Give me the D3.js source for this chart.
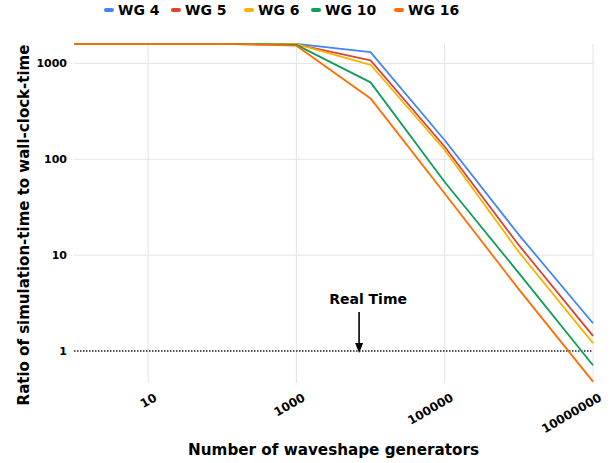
<!DOCTYPE html>
<html>
<head>
<meta charset="utf-8">
<script src="https://cdn.jsdelivr.net/npm/d3@7"></script>
<style>
  html, body { margin: 0; padding: 0; background: #fff; }
  text { font-family: "DejaVu Sans", Verdana, sans-serif; font-weight: bold; fill: #000; }
</style>
</head>
<body>
<svg id="chart" width="611" height="463"></svg>
<script>
// ---- data ----
const generators = [1, 10, 100, 1000, 10000, 100000, 1000000, 10000000];
const seriesNames = ["WG 4", "WG 5", "WG 6", "WG 10", "WG 16"];
const wg4  = [1600, 1600, 1600, 1600, 1312, 158, 16.3, 1.95];
const wg5  = [1600, 1600, 1600, 1580, 1075, 135, 12.7, 1.44];
const wg6  = [1600, 1600, 1600, 1590, 967, 125, 10.8, 1.21];
const wg10 = [1600, 1600, 1600, 1560, 634, 58, 6.5, 0.71];
const wg16 = [1600, 1600, 1600, 1530, 431, 44, 4.4, 0.48];
const realTime = [1, 1, 1, 1, 1, 1, 1, 1];
const colors = ["#4285F4", "#DB4437", "#F4B400", "#0F9D58", "#FF6D01"];
const xTicks = [10, 1000, 100000, 10000000];
const yTicks = [1, 10, 100, 1000];
const annotation = { x: 7000, label: "Real Time" };
const xTitle = "Number of waveshape generators";
const yTitle = "Ratio of simulation-time to wall-clock-time";

const allSeries = [wg4, wg5, wg6, wg10, wg16];

// ---- layout ----
const svg = d3.select("#chart");
const pLeft = 74, pRight = 593, pTop = 36, pBottom = 383;

const x = d3.scaleLog().domain([1, 10000000]).range([pLeft, pRight]);
const y = d3.scaleLog().domain([0.464, 1930]).range([pBottom, pTop]);

// gridlines
const grid = svg.append("g");
grid.selectAll("line.h").data(yTicks.filter(d => d !== 1)).enter().append("line")
  .attr("x1", pLeft).attr("x2", pRight)
  .attr("y1", d => y(d)).attr("y2", d => y(d))
  .attr("stroke", "#e3e3e3").attr("stroke-width", 1);
grid.selectAll("line.v").data(xTicks).enter().append("line")
  .attr("x1", d => x(d)).attr("x2", d => x(d))
  .attr("y1", pTop + 8).attr("y2", pBottom)
  .attr("stroke", "#e3e3e3").attr("stroke-width", 1);

// axes (labels only)
const yAxis = d3.axisLeft(y).tickValues(yTicks).tickFormat(d3.format("d")).tickSize(0).tickPadding(7);
const yg = svg.append("g").attr("transform", `translate(${pLeft},0)`).call(yAxis);
yg.select(".domain").remove();
yg.selectAll("text").style("font-size", "11px").style("font-family", "DejaVu Sans").style("font-weight", "bold");

const xAxis = d3.axisBottom(x).tickValues(xTicks).tickFormat(d3.format("d")).tickSize(0);
const xg = svg.append("g").attr("transform", `translate(0,${pBottom})`).call(xAxis);
xg.select(".domain").remove();
xg.selectAll("text")
  .style("font-size", "12px").style("font-family", "DejaVu Sans").style("font-weight", "bold")
  .attr("text-anchor", "end")
  .attr("dy", null)
  .attr("y", 0)
  .attr("transform", "translate(9,17) rotate(-30)");

// real time dotted line
const line = d3.line().x((d, i) => x(generators[i])).y(d => y(d));
svg.append("path").datum(realTime)
  .attr("d", line).attr("fill", "none")
  .attr("stroke", "#222").attr("stroke-width", 1.6)
  .attr("stroke-dasharray", "1.5,1.5");

// series lines
svg.append("g").selectAll("path").data(allSeries).enter().append("path")
  .attr("d", d => line(d))
  .attr("fill", "none")
  .attr("stroke", (d, i) => colors[i])
  .attr("stroke-width", 1.8)
  .attr("stroke-linejoin", "round");

// annotation
const ax = x(annotation.x);
svg.append("text").attr("x", ax + 9).attr("y", 304)
  .attr("text-anchor", "middle").style("font-size", "14px")
  .text(annotation.label);
svg.append("line").attr("x1", ax).attr("x2", ax).attr("y1", 312).attr("y2", 344)
  .attr("stroke", "#000").attr("stroke-width", 1.6);
svg.append("path")
  .attr("d", `M${ax - 4},${343} L${ax + 4},${343} L${ax},${353} Z`)
  .attr("fill", "#000");

// legend
const legendX = [105, 172, 245, 312, 395];
const lg = svg.append("g");
seriesNames.forEach((name, i) => {
  lg.append("line").attr("x1", legendX[i] + 1).attr("x2", legendX[i] + 7)
    .attr("y1", 10).attr("y2", 10)
    .attr("stroke", colors[i]).attr("stroke-width", 4).attr("stroke-linecap", "round");
  lg.append("text").attr("x", legendX[i] + 13).attr("y", 15)
    .style("font-size", "14px").text(name);
});

// titles
svg.append("text").attr("x", (pLeft + pRight) / 2).attr("y", 455)
  .attr("text-anchor", "middle").style("font-size", "15.2px").text(xTitle);
svg.append("text").attr("transform", "translate(29,225) rotate(-90)")
  .attr("text-anchor", "middle").style("font-size", "15px").text(yTitle);
</script>
</body>
</html>
